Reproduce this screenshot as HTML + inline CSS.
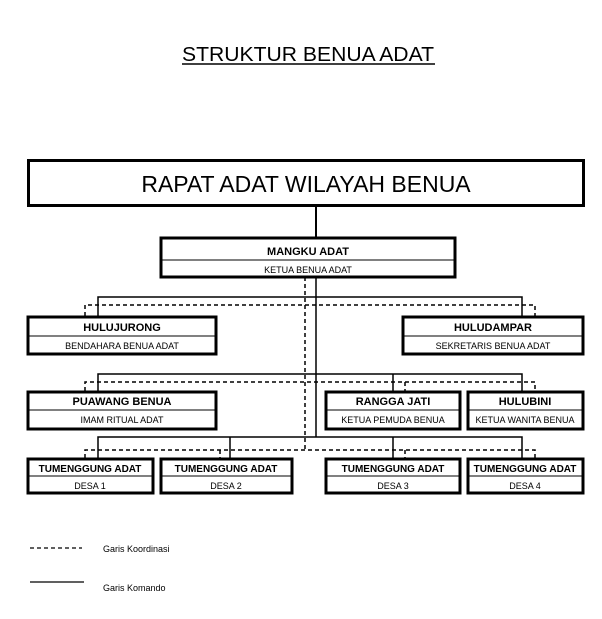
<!DOCTYPE html>
<html><head><style>body{margin:0;background:#fff}svg{display:block}text{font-family:"Liberation Sans",sans-serif;fill:#000}</style></head><body>
<svg width="602" height="619" viewBox="0 0 602 619" xmlns="http://www.w3.org/2000/svg">
<text x="308" y="61" font-size="20" text-anchor="middle" textLength="252" lengthAdjust="spacingAndGlyphs">STRUKTUR BENUA  ADAT</text>
<line x1="182" y1="64" x2="435" y2="64" stroke="#000" stroke-width="1.5"/>
<g fill="none" stroke="#000">
<rect x="28.5" y="160.5" width="555" height="45" stroke-width="3"/>
<line x1="316" y1="206" x2="316" y2="237" stroke-width="2"/>
<rect x="161" y="238" width="294" height="39" stroke-width="3"/><line x1="161" y1="260" x2="455" y2="260" stroke-width="1"/>
<!-- solid -->
<g stroke-width="1.5">
<line x1="316" y1="277" x2="316" y2="437"/>
<polyline points="98,316 98,297 522,297 522,316"/>
<polyline points="98,391 98,374 522,374 522,391"/><line x1="393" y1="374" x2="393" y2="391"/>
<polyline points="98,458 98,437 522,437 522,458"/><line x1="230" y1="437" x2="230" y2="458"/><line x1="393" y1="437" x2="393" y2="458"/>
</g>
<g stroke-width="1.5" stroke-dasharray="4,3">
<line x1="305" y1="277" x2="305" y2="450"/>
<polyline points="85,316 85,305 535,305 535,316"/>
<polyline points="85,391 85,382 535,382 535,391"/><line x1="405" y1="382" x2="405" y2="391"/>
<polyline points="85,458 85,450 535,450 535,458"/><line x1="220" y1="450" x2="220" y2="458"/><line x1="405" y1="450" x2="405" y2="458"/>
</g>
<g stroke-width="3">
<rect x="28" y="317" width="188" height="37"/><rect x="403" y="317" width="180" height="37"/>
<rect x="28" y="392" width="188" height="37"/><rect x="326" y="392" width="134" height="37"/><rect x="468" y="392" width="115" height="37"/>
<rect x="28" y="459" width="125" height="34"/><rect x="161" y="459" width="131" height="34"/><rect x="326" y="459" width="134" height="34"/><rect x="468" y="459" width="115" height="34"/>
</g>
<g stroke-width="1">
<line x1="28" y1="336" x2="216" y2="336"/><line x1="403" y1="336" x2="583" y2="336"/>
<line x1="28" y1="410" x2="216" y2="410"/><line x1="326" y1="410" x2="460" y2="410"/><line x1="468" y1="410" x2="583" y2="410"/>
<line x1="28" y1="476" x2="153" y2="476"/><line x1="161" y1="476" x2="292" y2="476"/><line x1="326" y1="476" x2="460" y2="476"/><line x1="468" y1="476" x2="583" y2="476"/>
</g>
<line x1="30" y1="548" x2="82" y2="548" stroke-width="1.2" stroke-dasharray="4,3"/>
<line x1="30" y1="582" x2="84" y2="582" stroke-width="1.2"/>
</g>
<text x="306" y="192" font-size="23" text-anchor="middle">RAPAT ADAT WILAYAH BENUA</text>
<g font-size="11" font-weight="bold" text-anchor="middle">
<text x="308" y="255">MANGKU ADAT</text>
<text x="122" y="331">HULUJURONG</text><text x="493" y="331">HULUDAMPAR</text>
<text x="122" y="405">PUAWANG BENUA</text><text x="393" y="405">RANGGA JATI</text><text x="525" y="405">HULUBINI</text>
<g font-size="10"><text x="90" y="472">TUMENGGUNG ADAT</text><text x="226" y="472">TUMENGGUNG ADAT</text><text x="393" y="472">TUMENGGUNG ADAT</text><text x="525" y="472">TUMENGGUNG ADAT</text></g>
</g>
<g font-size="9" text-anchor="middle">
<text x="308" y="273">KETUA BENUA ADAT</text>
<text x="122" y="349">BENDAHARA BENUA ADAT</text><text x="493" y="349">SEKRETARIS BENUA ADAT</text>
<text x="122" y="423">IMAM RITUAL ADAT</text><text x="393" y="423">KETUA PEMUDA BENUA</text><text x="525" y="423">KETUA WANITA BENUA</text>
<text x="90" y="489">DESA 1</text><text x="226" y="489">DESA 2</text><text x="393" y="489">DESA 3</text><text x="525" y="489">DESA 4</text>
</g>
<text x="103" y="552" font-size="9">Garis Koordinasi</text>
<text x="103" y="591" font-size="9">Garis Komando</text>
</svg>
</body></html>
